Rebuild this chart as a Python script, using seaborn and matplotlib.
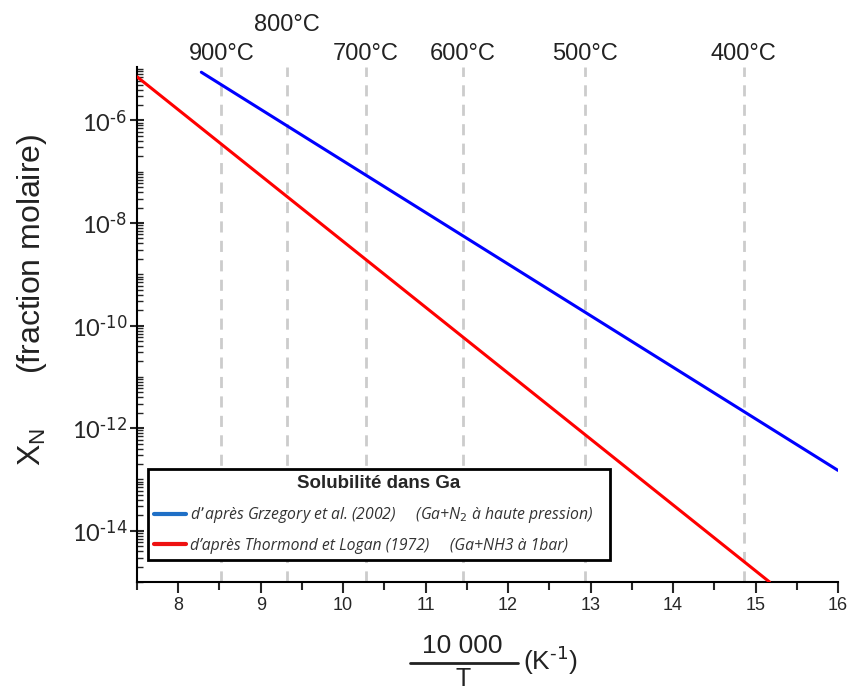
import matplotlib
matplotlib.use("Agg")
import matplotlib.pyplot as plt
from matplotlib.lines import Line2D
from matplotlib.ticker import LogLocator, FixedLocator, FixedFormatter, MultipleLocator, NullFormatter
import matplotlib.transforms as mtransforms
import seaborn as sns
import pandas as pd
import numpy as np


# Data

blue_x = [8.28, 16.0]
blue_y = [8.7e-6, 1.5e-13]

red_x = [7.5, 15.17]
red_y = [7.1e-6, 1.0e-15]

blue_label = "d\u2019apr\u00e8s Grzegory et al. (2002)     (Ga+N$_2$ \u00e0 haute pression)"
red_label = "d\u2019apr\u00e8s Thormond et Logan (1972)     (Ga+NH3 \u00e0 1bar)"

temps_c = [900, 800, 700, 600, 500, 400]
temp_raised = [False, True, False, False, False, False]

y_ticks = [1e-6, 1e-8, 1e-10, 1e-12, 1e-14]
y_exponents = ["-6", "-8", "-10", "-12", "-14"]
x_ticks = [8, 9, 10, 11, 12, 13, 14, 15, 16]


sns.set_style("ticks")
plt.rcParams['font.family'] = ['Liberation Sans', 'DejaVu Sans']
plt.rcParams['axes.unicode_minus'] = False

df = pd.DataFrame({
    "x": blue_x + red_x,
    "y": blue_y + red_y,
    "source": ["blue"] * len(blue_x) + ["red"] * len(red_x),
})

fig = plt.figure(figsize=(8.5, 6.93), dpi=100)
ax = fig.add_axes([137 / 850, 1 - 582 / 693, (838 - 137) / 850, (582 - 67) / 693])

# dashed isotherms
for t in temps_c:
    ax.axvline(10000 / (t + 273.15), color="#cccccc", lw=2, ls=(0, (4, 3)), zorder=1)

sns.lineplot(data=df, x="x", y="y", hue="source",
             palette={"blue": "#0000ff", "red": "#ff0000"},
             lw=2.2, legend=False, ax=ax, zorder=3)

ax.set_yscale("log")
ax.set_xlim(7.5, 16)
ax.set_ylim(1e-15, 1.1e-5)

# axes style
sns.despine(ax=ax)
for s in ["left", "bottom"]:
    ax.spines[s].set_linewidth(1.5)
    ax.spines[s].set_color("black")

ax.xaxis.set_major_locator(FixedLocator(x_ticks))
ax.xaxis.set_minor_locator(MultipleLocator(0.5))
ax.tick_params(axis="x", which="major", direction="out", length=8, width=1.5,
               labelsize=13, pad=3)
ax.tick_params(axis="x", which="minor", direction="out", length=6, width=1.5)

ax.yaxis.set_major_locator(FixedLocator(y_ticks))
ax.yaxis.set_major_formatter(FixedFormatter(
    [r"$\mathregular{10^{\text{%s}}}$" % e for e in y_exponents]))
ax.yaxis.set_minor_locator(LogLocator(base=10, subs=np.arange(1, 10), numticks=30))
ax.yaxis.set_minor_formatter(NullFormatter())
ax.tick_params(axis="y", which="major", direction="inout", length=10, width=1.5,
               labelsize=17, pad=2)
ax.tick_params(axis="y", which="minor", direction="in", length=4, width=1)
for lab in ax.get_yticklabels():
    lab.set_family(["Lato", "DejaVu Sans"])

ax.set_xlabel("")
ax.set_ylabel("")

# temperature labels on top
trans = mtransforms.blended_transform_factory(ax.transData, ax.transAxes)
for t, up in zip(temps_c, temp_raised):
    ax.text(10000 / (t + 273.15), 1.082 if up else 1.026, f"{t}\u00b0C",
            transform=trans, ha="center", va="center", fontsize=17,
            color="#222222")

# y label
fig.text(32 / 850, 1 - 300 / 693, "X$_\\mathregular{N}$      (fraction molaire)", rotation=90,
         ha="center", va="center", fontsize=23, color="#222222")

# x label as a fraction
fig.text(462 / 850, 1 - 646 / 693, "10 000", ha="center", va="center", fontsize=19,
         color="#222222")
fig.text(463 / 850, 1 - 679 / 693, "T", ha="center", va="center", fontsize=18,
         color="#222222")
fig.add_artist(Line2D([410 / 850, 518 / 850], [1 - 663 / 693, 1 - 663 / 693],
                      color="#222222", lw=2, transform=fig.transFigure))
fig.text(523 / 850, 1 - 660 / 693, "(K$^{\\mathregular{\\text{-1}}}$)", ha="left", va="center",
         fontsize=19, color="#222222")

# legend
handles = [Line2D([0], [0], color="#1f6fc6", lw=3),
           Line2D([0], [0], color="#ee1111", lw=3)]
leg = ax.legend(handles, [blue_label, red_label], title="Solubilit\u00e9 dans Ga",
                loc="lower left", bbox_to_anchor=(0.0157, 0.043, 0.659, 0.19),
                mode="expand", borderaxespad=0, fancybox=False, framealpha=1,
                edgecolor="black", handlelength=2.0, handletextpad=0.3,
                labelspacing=0.8, prop={"family": ["Open Sans", "DejaVu Sans"],
                                        "style": "italic", "size": 11.3})
leg.get_frame().set_linewidth(2)
leg.get_title().set_fontweight("bold")
leg.get_title().set_fontsize(13.5)
for txt in leg.get_texts():
    txt.set_color("#333333")
leg.set_zorder(5)

fig.savefig("out.png", dpi=100)
